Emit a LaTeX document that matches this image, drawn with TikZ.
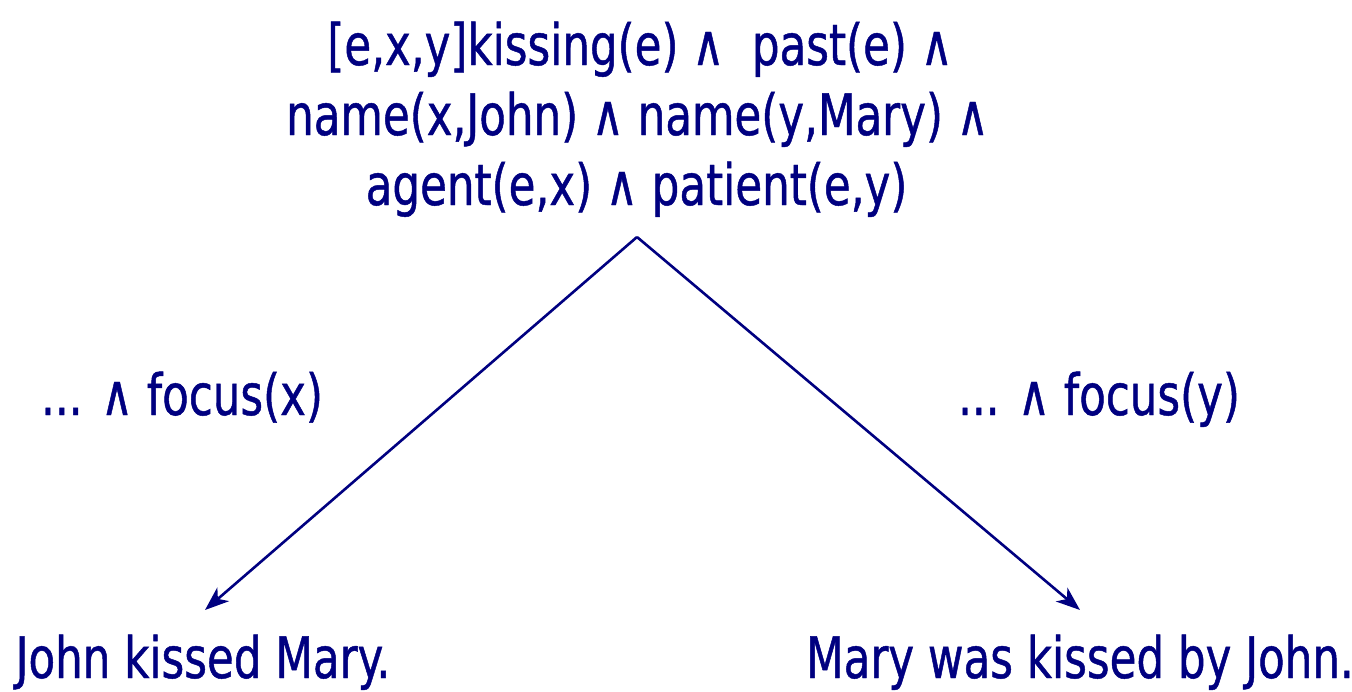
\documentclass[tikz,border=0pt]{standalone}
\usepackage{fontspec}
\setmainfont{DejaVu Sans Condensed}[FakeStretch=0.85,FakeBold=0.8]
\usetikzlibrary{arrows.meta}
\definecolor{navy}{RGB}{0,0,128}
\begin{document}
\begin{tikzpicture}[x=1pt,y=-1pt,
  txt/.style={text=navy,inner sep=0pt,anchor=base,font=\fontsize{57}{66}\selectfont},
  conn/.style={draw=navy,line width=2.6pt,-{Stealth[length=24pt,width=18pt,inset=7pt]}}]
\useasboundingbox (0,0) rectangle (1352,691);
\node[txt] (l1) at (640,65) {[e,x,y]kissing(e) ∧~ past(e) ∧};
\node[txt] (l2) at (637.5,135) {name(x,John) ∧ name(y,Mary) ∧};
\node[txt] (l3) at (636.5,205) {agent(e,x) ∧ patient(e,y)};
\node[txt] (fx) at (182,415) {... ∧ focus(x)};
\node[txt] (fy) at (1099,415) {... ∧ focus(y)};
\node[txt] (s1) at (203,678) {John kissed Mary.};
\node[txt] (s2) at (1080,678) {Mary was kissed by John.};
\coordinate (apex) at (637,237);
\coordinate (e1) at (205,610);
\coordinate (e2) at (1080,610);
\draw[conn] (apex) -- (e1);
\draw[conn] (apex) -- (e2);
\end{tikzpicture}
\end{document}
